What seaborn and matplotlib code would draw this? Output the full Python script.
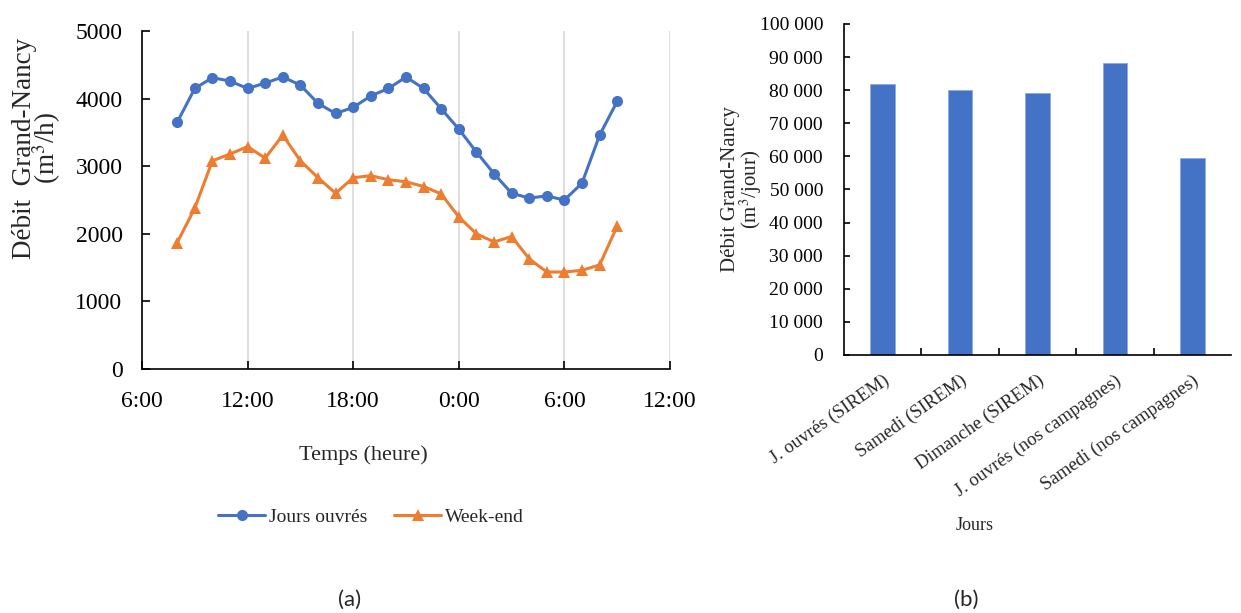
import numpy as np
import pandas as pd
import matplotlib
matplotlib.use("Agg")
import matplotlib.pyplot as plt
import seaborn as sns
from matplotlib.ticker import FuncFormatter

# heures (8h -> 9h le lendemain, en heures cumulées)
heures = list(range(8, 34))
jours_ouvres = [3650, 4150, 4310, 4260, 4150, 4230, 4320, 4200, 3930, 3780,
                3870, 4040, 4150, 4320, 4150, 3850, 3550, 3210, 2890, 2600,
                2530, 2560, 2500, 2750, 3460, 3960]
week_end = [1870, 2380, 3080, 3180, 3290, 3120, 3460, 3080, 2830, 2600,
            2830, 2860, 2800, 2770, 2700, 2590, 2250, 2000, 1880, 1960,
            1630, 1435, 1435, 1460, 1540, 2115]
x_ticks = [6, 12, 18, 24, 30, 36]
x_labels = ["6:00", "12:00", "18:00", "0:00", "6:00", "12:00"]

categories = ["J. ouvrés (SIREM)", "Samedi (SIREM)", "Dimanche (SIREM)",
              "J. ouvrés (nos campagnes)", "Samedi (nos campagnes)"]
debits_jour = [82000, 80200, 79000, 88100, 59400]

BLUE = "#4472C4"
ORANGE = "#ED7D31"

sns.set_theme(style="white")
plt.rcParams['font.family'] = ['Liberation Serif', 'DejaVu Serif']
plt.rcParams['mathtext.fontset'] = 'stix'

fig = plt.figure(figsize=(12.41, 6.13), dpi=100)

# ---- (a) courbes horaires
ax1 = fig.add_axes([0.1144, 0.398, 0.4255, 0.5514])
sns.lineplot(x=heures, y=jours_ouvres, ax=ax1, color=BLUE, marker="o",
             markersize=8, markeredgewidth=0, linewidth=2.2, label="Jours ouvrés")
sns.lineplot(x=heures, y=week_end, ax=ax1, color=ORANGE, marker="^",
             markersize=9, markeredgewidth=0, linewidth=2.2, label="Week-end")
ax1.set_xlim(6, 36)
ax1.set_ylim(0, 5000)
ax1.set_xticks(x_ticks)
ax1.set_xticklabels(x_labels)
ax1.set_yticks(range(0, 5001, 1000))
ax1.grid(axis="x", color="#d9d9d9", linewidth=1.2)
ax1.grid(axis="y", visible=False)
for s in ["top", "right"]:
    ax1.spines[s].set_visible(False)
for s in ["left", "bottom"]:
    ax1.spines[s].set_color("black")
    ax1.spines[s].set_linewidth(1.2)
ax1.tick_params(axis="both", direction="in", length=6, width=1.2,
                labelsize=17, colors="black", left=True, bottom=True)
ax1.tick_params(axis="x", pad=16)
ax1.tick_params(axis="y", pad=14)
ax1.set_xlabel("Temps (heure)", fontsize=16)
ax1.xaxis.set_label_coords(0.42, -0.225)
ax1.set_ylabel("Débit  Grand-Nancy\n(m$^3$/h)", fontsize=19.5, linespacing=0.72)
ax1.yaxis.set_label_coords(-0.15, 0.654)
ax1.legend_.remove()
h, l = ax1.get_legend_handles_labels()
fig.legend(h, l, loc="center", bbox_to_anchor=(0.299, 0.157), ncol=2,
           frameon=False, fontsize=14, handlelength=2.4, columnspacing=1.4,
           handletextpad=0.2)

# ---- (b) débits journaliers
ax2 = fig.add_axes([0.680, 0.4209, 0.312, 0.540])
df_b = pd.DataFrame({"jour": categories, "debit": debits_jour})
sns.barplot(data=df_b, x="jour", y="debit", ax=ax2, color=BLUE,
            saturation=1, width=0.32, edgecolor="#8fa9dc", linewidth=0.6)
ax2.set_ylim(0, 100000)
ax2.set_xlim(-0.5, 4.5)
ax2.set_yticks(range(0, 100001, 10000))
ax2.yaxis.set_major_formatter(FuncFormatter(lambda v, p: f"{int(v):,}".replace(",", " ")))
ax2.set_xticks(range(len(categories)))
ax2.set_xticklabels(categories, rotation=35, ha="right", rotation_mode="anchor",
                    fontsize=13.5)
ax2.set_xticks([0.5, 1.5, 2.5, 3.5], minor=True)
ax2.tick_params(axis="x", which="major", length=0, pad=12)
ax2.tick_params(axis="x", which="minor", direction="in", length=5, width=1.2,
                bottom=True, color="black")
ax2.tick_params(axis="y", direction="in", length=4, width=1.2, left=True,
                labelsize=14, colors="black", pad=15)
for s in ["top", "right"]:
    ax2.spines[s].set_visible(False)
for s in ["left", "bottom"]:
    ax2.spines[s].set_color("black")
    ax2.spines[s].set_linewidth(1.2)
ax2.set_xlabel("Jours", fontsize=13)
ax2.xaxis.set_label_coords(0.338, -0.49)
ax2.set_ylabel("Débit Grand-Nancy\n(m$^3$/jour)", fontsize=15, linespacing=0.85)
ax2.yaxis.set_label_coords(-0.207, 0.5)

fig.text(0.282, 0.021, "(a)", fontsize=16, family=["Lato", "DejaVu Sans"],
         ha="center", va="center")
fig.text(0.779, 0.021, "(b)", fontsize=16, family=["Lato", "DejaVu Sans"],
         ha="center", va="center")

fig.savefig("out.png", dpi=100, facecolor="white")
